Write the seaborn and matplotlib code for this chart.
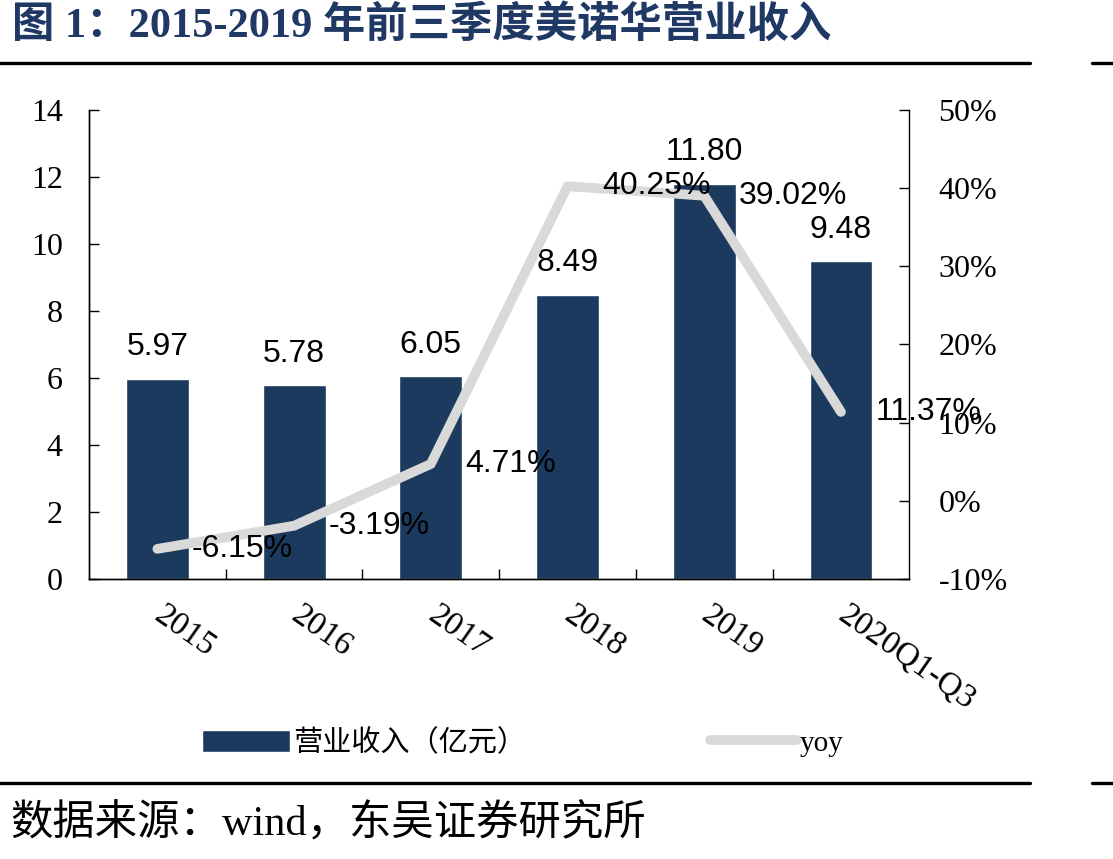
import numpy as np
import seaborn as sns
import matplotlib.pyplot as plt
from matplotlib.lines import Line2D
from matplotlib.ticker import FixedLocator, FuncFormatter

categories = ['2015', '2016', '2017', '2018', '2019', '2020Q1-Q3']
revenue = [5.97, 5.78, 6.05, 8.49, 11.80, 9.48]
yoy = [-6.15, -3.19, 4.71, 40.25, 39.02, 11.37]

title = '图 1：2015-2019 年前三季度美诺华营业收入'
source = '数据来源：wind，东吴证券研究所'
bar_name = '营业收入（亿元）'
line_name = 'yoy'

bar_color = '#1B3A5E'
line_color = '#D9D9D9'
serif_cjk = ['Liberation Serif', 'Noto Sans CJK SC']

sns.set_theme(style='white')
plt.rcParams['font.family'] = serif_cjk
plt.rcParams['text.color'] = 'black'
plt.rcParams['xtick.color'] = 'black'
plt.rcParams['ytick.color'] = 'black'

fig = plt.figure(figsize=(11.13, 8.59), dpi=100)
ax = fig.add_axes([0.080, 0.326, 0.737, 0.546])

sns.barplot(x=categories, y=revenue, color=bar_color, width=0.46,
            saturation=1, ax=ax)
ax.set_xlim(-0.5, 5.5)
ax.set_ylim(0, 14)
ax.set_yticks(range(0, 15, 2))

ax2 = ax.twinx()
sns.lineplot(x=np.arange(len(categories)), y=yoy, ax=ax2, color=line_color,
             linewidth=7, sort=False, legend=False,
             solid_capstyle='round', solid_joinstyle='round')
ax2.set_ylim(-10, 50)
ax2.set_yticks(range(-10, 51, 10))
ax2.yaxis.set_major_formatter(FuncFormatter(lambda v, p: f'{v:.0f}%'))
ax2.set_xlim(-0.5, 5.5)

# spines and ticks
for a in (ax, ax2):
    for s in a.spines.values():
        s.set_color('black')
        s.set_linewidth(1.0)
    a.spines['top'].set_visible(False)
    a.set_xlabel('')
    a.set_ylabel('')
ax.spines['right'].set_visible(False)

ax.tick_params(axis='y', direction='in', length=7, width=1, color='black',
               pad=19, labelsize=23, left=True)
ax2.tick_params(axis='y', direction='in', length=7, width=1, color='black',
                pad=21, labelsize=23, right=True)
ax.xaxis.set_minor_locator(FixedLocator(np.arange(0.5, 5.5, 1)))
ax.tick_params(axis='x', which='minor', direction='in', length=7, width=1,
               color='black', bottom=True)
ax.tick_params(axis='x', which='major', length=0, pad=24, labelsize=24)
for lab in ax.get_xticklabels():
    lab.set_rotation(-35)
    lab.set_ha('left')
    lab.set_va('center')
    lab.set_rotation_mode('anchor')

# data labels
ax.bar_label(ax.containers[0], fmt='%.2f', padding=12, fontsize=23,
             family='Liberation Sans')
for i, v in enumerate(yoy):
    ax2.annotate(f'{v:.2f}%', (i, v), xytext=(25, 0), textcoords='offset points',
                 ha='left', va='center', fontsize=23, family='Liberation Sans')

# legend
fig.legend(handles=[ax.containers[0], ax2.lines[0]], labels=[bar_name, line_name],
           loc='center', bbox_to_anchor=(0.47, 0.135), ncol=2, frameon=False,
           prop={'family': serif_cjk, 'size': 21}, handlelength=3.0,
           handleheight=0.8, handletextpad=0.1, columnspacing=6.3)

# title, rules and source
fig.text(0.011, 0.970, title, fontsize=30.5, fontweight='bold', color='#1F3864',
         va='center', ha='left')
for y in (0.9267, 0.0885):
    fig.add_artist(Line2D([0, 0.9254], [y, y], color='black', linewidth=2.4,
                          transform=fig.transFigure))
    fig.add_artist(Line2D([0.981, 1], [y, y], color='black', linewidth=2.4,
                          transform=fig.transFigure))
fig.text(0.009, 0.040, source, fontsize=30.5, va='center', ha='left')

fig.savefig('out.png', dpi=100)
